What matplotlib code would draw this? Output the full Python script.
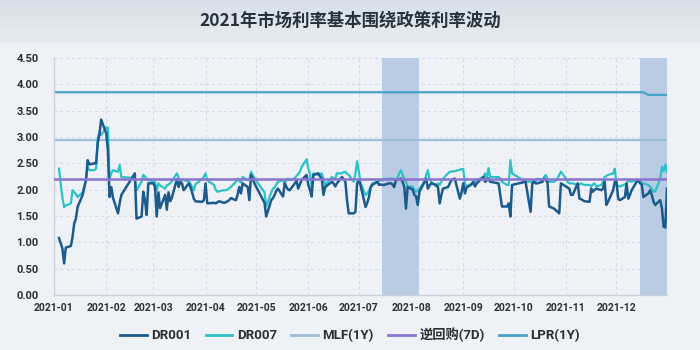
import matplotlib
matplotlib.use("Agg")
import matplotlib.pyplot as plt
import matplotlib.dates as mdates
import numpy as np
import pandas as pd

# 交易日（剔除节假日）
holidays = ["2021-02-11", "2021-02-12", "2021-02-15", "2021-02-16", "2021-02-17",
            "2021-04-05", "2021-05-03", "2021-05-04", "2021-05-05", "2021-06-14",
            "2021-09-20", "2021-09-21", "2021-10-01", "2021-10-04", "2021-10-05",
            "2021-10-06", "2021-10-07"]
trade_days = pd.bdate_range("2021-01-04", "2021-12-31")
trade_days = trade_days[~trade_days.isin(pd.to_datetime(holidays))]

# DR001 按月
dr001 = [
    # 1月
    1.08, 0.98, 0.88, 0.60, 0.90, 0.93, 1.10, 1.36, 1.45, 1.67,
    1.90, 2.05, 2.18, 2.56, 2.48, 2.50, 2.50, 2.90, 3.05, 3.33,
    # 2月
    3.07, 2.75, 1.86, 2.05, 1.85, 1.55, 1.75, 1.90, 2.31, 1.45,
    1.49, 1.96, 1.80, 1.52, 2.12,
    # 3月
    2.12, 2.05, 1.49, 1.95, 1.65, 1.90, 1.62, 1.95, 1.78, 1.85,
    2.20, 2.05, 2.15, 2.12, 1.99, 2.12, 2.05, 1.95, 1.83, 1.78,
    1.77, 1.77, 1.80,
    # 4月
    2.12, 1.74, 1.75, 1.74, 1.76, 1.78, 1.75, 1.76, 1.78, 1.80,
    1.84, 1.80, 1.90, 2.05, 1.93, 2.12, 2.05, 1.80, 2.28, 2.20, 2.12,
    # 5月
    1.75, 1.49, 1.80, 1.84, 1.90, 1.98, 2.02, 1.87, 2.12, 2.05,
    2.00, 1.99, 2.12, 2.18, 2.02, 2.10, 2.18, 2.28,
    # 6月
    2.09, 2.00, 1.87, 2.28, 2.31, 2.25, 2.21, 1.90, 2.05, 2.15,
    2.12, 2.06, 2.12, 2.24, 2.20, 2.15, 1.80, 1.55, 1.55, 1.58, 2.12,
    # 7月
    2.18, 2.09, 1.67, 1.75, 1.86, 2.04, 2.09, 2.15, 2.09, 2.10,
    2.09, 2.09, 2.12, 2.12, 2.10, 2.05, 2.18, 2.21, 2.15, 2.05,
    1.64, 2.05,
    # 8月
    2.00, 1.90, 1.87, 1.71, 1.96, 2.15, 2.21, 2.02, 2.08, 2.12,
    2.09, 2.05, 1.74, 1.90, 2.02, 2.05, 2.12, 2.18, 2.20, 2.21,
    1.83, 1.95,
    # 9月
    2.12, 1.93, 2.04, 2.10, 2.15, 2.06, 2.12, 2.15, 2.24, 2.15,
    2.18, 2.21, 2.15, 2.12, 1.90, 1.68, 1.68, 1.74, 1.49, 2.09,
    # 10月
    2.15, 1.58, 2.12, 2.15, 2.12, 2.12, 2.15, 2.21, 2.18, 2.15,
    1.68, 1.64, 1.61, 1.58, 1.55, 2.12,
    # 11月
    2.06, 2.04, 2.02, 1.90, 1.90, 2.12, 1.83, 1.82, 1.80, 1.78,
    1.77, 2.02, 1.96, 2.00, 2.02, 1.99, 2.02, 2.15, 1.71, 1.77,
    1.99, 2.15,
    # 12月
    2.15, 1.83, 1.80, 1.86, 2.12, 1.83, 1.90, 1.99, 2.15, 2.18,
    2.12, 2.10, 1.86, 1.93, 1.99, 1.90, 1.77, 1.71, 1.80, 1.64,
    1.30, 1.28, 2.02,
]

# DR007 按月
dr007 = [
    # 1月
    2.40, 2.10, 1.85, 1.67, 1.70, 1.74, 1.99, 1.95, 1.92, 1.86,
    1.95, 2.05, 2.21, 2.43, 2.37, 2.37, 2.40, 2.97, 3.10, 3.04,
    # 2月
    3.18, 3.18, 2.21, 2.31, 2.37, 2.34, 2.47, 2.24, 2.22, 1.99,
    2.15, 2.28, 2.25, 2.20, 2.18,
    # 3月
    2.16, 2.15, 1.99, 2.12, 2.08, 2.02, 2.08, 2.10, 2.12, 2.16,
    2.31, 2.22, 2.18, 2.18, 2.18, 2.16, 2.12, 2.05, 1.99, 2.10,
    2.18, 2.20, 2.25,
    # 4月
    2.31, 2.18, 2.09, 2.00, 1.96, 1.97, 1.99, 1.99, 2.00, 2.03,
    2.05, 2.15, 2.21, 2.16, 2.14, 2.24, 2.18, 2.20, 2.34, 2.28, 2.22,
    # 5月
    1.95, 1.68, 1.95, 2.02, 2.04, 2.10, 2.15, 2.18, 2.12, 2.18,
    2.21, 2.18, 2.22, 2.26, 2.30, 2.34, 2.43, 2.58,
    # 6月
    2.40, 2.31, 2.04, 2.31, 2.28, 2.30, 2.31, 2.20, 2.09, 2.24,
    2.22, 2.21, 2.31, 2.31, 2.33, 2.34, 2.30, 2.28, 2.15, 2.31, 2.54,
    # 7月
    2.35, 2.12, 1.90, 1.93, 1.98, 2.05, 2.12, 2.15, 2.16, 2.18,
    2.18, 2.20, 2.21, 2.21, 2.21, 2.20, 2.18, 2.37, 2.28, 2.20,
    2.15, 2.06,
    # 8月
    2.06, 2.00, 1.96, 1.99, 2.02, 2.15, 2.28, 2.37, 2.20, 2.15,
    2.06, 2.12, 2.09, 2.15, 2.21, 2.31, 2.34, 2.34, 2.35, 2.35,
    2.38, 2.39,
    # 9月
    2.39, 2.12, 2.06, 2.12, 2.15, 2.16, 2.18, 2.20, 2.24, 2.31,
    2.21, 2.41, 2.24, 2.24, 2.21, 2.15, 2.09, 2.09, 2.56, 2.31,
    # 10月
    2.15, 2.15, 2.18, 2.16, 2.15, 2.21, 2.18, 2.24, 2.28, 2.20,
    2.15, 2.15, 2.18, 2.21, 2.28, 2.34,
    # 11月
    2.21, 2.15, 2.12, 2.12, 2.12, 2.09, 2.10, 2.12, 2.10, 2.09,
    2.09, 2.06, 2.10, 2.12, 2.06, 2.09, 2.15, 2.24, 2.26, 2.28,
    2.31, 2.40,
    # 12月
    2.09, 2.07, 2.06, 2.10, 2.12, 2.18, 2.16, 2.15, 2.18, 2.18,
    2.18, 2.12, 2.12, 2.09, 2.05, 2.02, 1.96, 1.97, 2.21, 2.43,
    2.35, 2.48, 2.33,
]

# 政策利率
mlf_dates = ["2021-01-01", "2021-12-31"]
mlf_rate = [2.95, 2.95]
rr_dates = ["2021-01-01", "2021-12-31"]
rr_rate = [2.20, 2.20]
lpr_dates = ["2021-01-01", "2021-12-17", "2021-12-20", "2021-12-31"]
lpr_rate = [3.85, 3.85, 3.80, 3.80]

# 降准区间
shade_spans = [("2021-07-15", "2021-08-06"), ("2021-12-15", "2021-12-31")]

title = "2021年市场利率基本围绕政策利率波动"
labels = ["DR001", "DR007", "MLF(1Y)", "逆回购(7D)", "LPR(1Y)"]
colors = ["#1c5a8c", "#2cc1c6", "#9dbcd8", "#8a74cf", "#4aa2c9"]

num_font = ["Roboto", "Noto Sans CJK SC", "DejaVu Sans"]
cjk_font = ["Noto Sans CJK SC", "DejaVu Sans"]
bg = "#eef2f7"

fig = plt.figure(figsize=(7, 3.5), dpi=100, facecolor=bg)

# 标题栏渐变底色
band = fig.add_axes([0, 1 - 43 / 350, 1, 43 / 350])
grad = np.linspace(0, 1, 50).reshape(-1, 1)
band.imshow(grad, aspect="auto", cmap=matplotlib.colors.LinearSegmentedColormap.from_list(
    "band", ["#d6dfe7", "#e7edf2"]), extent=[0, 1, 0, 1])
band.axis("off")
fig.text(0.5, 1 - 21 / 350, title, ha="center", va="center", fontsize=12.5,
         fontweight="bold", color="#26323d", family=cjk_font)

ax = fig.add_axes([54 / 700, 55 / 350, 613 / 700, 237 / 350])
ax.set_facecolor(bg)

dates = trade_days
for start, end in shade_spans:
    ax.axvspan(pd.Timestamp(start), pd.Timestamp(end), color="#b9cce4", lw=0, zorder=1)

ax.plot(pd.to_datetime(mlf_dates), mlf_rate, color=colors[2], lw=1.6, zorder=2)
ax.plot(pd.to_datetime(lpr_dates), lpr_rate, color=colors[4], lw=1.6, zorder=2)
ax.plot(dates, dr007, color=colors[1], lw=1.6, zorder=3)
ax.plot(dates, dr001, color=colors[0], lw=1.8, zorder=4)
ax.plot(pd.to_datetime(rr_dates), rr_rate, color=colors[3], lw=1.8, zorder=5)

ax.set_xlim(pd.Timestamp("2021-01-01"), pd.Timestamp("2021-12-31"))
ax.set_ylim(0, 4.5)
ax.set_yticks(np.arange(0, 4.51, 0.5))
ax.yaxis.set_major_formatter(matplotlib.ticker.FormatStrFormatter("%.2f"))
ax.xaxis.set_major_locator(mdates.MonthLocator())
ax.xaxis.set_major_formatter(mdates.DateFormatter("%Y-%m"))

ax.grid(True, color="#d3dae3", lw=0.7, ls=(0, (3, 3)))
ax.set_axisbelow(True)
for side in ["top", "right"]:
    ax.spines[side].set_visible(False)
for side in ["left", "bottom"]:
    ax.spines[side].set_color("#c9d2dc")
    ax.spines[side].set_linewidth(1.0)
ax.tick_params(axis="x", length=0, pad=6, labelsize=7.5, labelcolor="#2b2f33")
ax.tick_params(axis="y", length=0, pad=11, labelsize=8, labelcolor="#2b2f33")
for lab in ax.get_xticklabels() + ax.get_yticklabels():
    lab.set_fontweight("bold")
    lab.set_family(num_font)

handles = [plt.Line2D([], [], color=c, lw=2) for c in colors]
leg = fig.legend(handles, labels, loc="center", bbox_to_anchor=(0.5, 15 / 350), ncol=5,
                 frameon=False, handlelength=2.0, handletextpad=0.35, columnspacing=1.1,
                 prop={"family": num_font, "weight": "bold", "size": 9.5})
for t in leg.get_texts():
    t.set_color("#2b2f33")

fig.savefig("out.png", dpi=100, facecolor=bg)
